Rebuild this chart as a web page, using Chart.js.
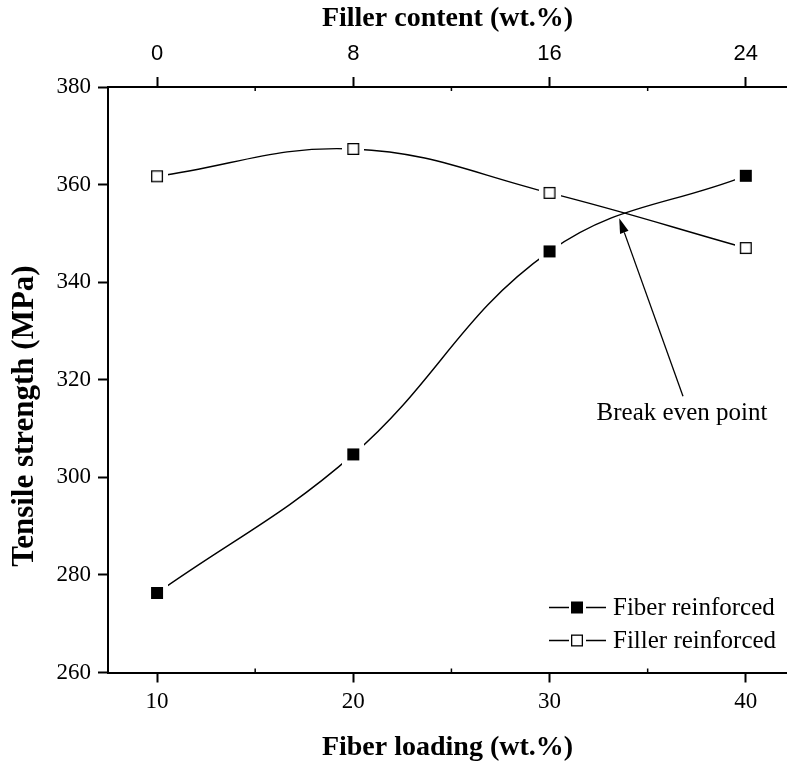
<!DOCTYPE html>
<html>
<head>
<meta charset="utf-8">
<script src="https://cdn.jsdelivr.net/npm/chart.js@4.4.0/dist/chart.umd.min.js"></script>
<style>
  html, body { margin: 0; padding: 0; background: #fff; overflow: hidden; }
  #wrap { width: 787px; height: 765px; position: relative; }
</style>
</head>
<body>
<div id="wrap"><canvas id="strengthChart"></canvas></div>
<script>
// fibre loading on the bottom axis, matching filler content on the top axis
const fiberLoading = [10, 20, 30, 40];
const fillerTicks = ['0', '8', '16', '24'];
const minorTicks = [15, 25, 35];
const strengthTicks = [260, 280, 300, 320, 340, 360, 380];

// tensile strength (MPa)
const fiberReinforced = [276.3, 304.7, 346.3, 361.8];
const fillerReinforced = [361.7, 367.3, 358.3, 347.0];

// arrow pointing at the crossing of the two curves
const breakEven = { tipX: 33.55, tipY: 353.1, tailX: 36.8, tailY: 316.6, textX: 36.75, textY: 313.0, text: 'Break even point' };

const SERIF = '"Liberation Serif", "Times New Roman", serif';
const SANS = '"Liberation Sans", Arial, sans-serif';

// square marker sitting on a white patch, so the curve stops short of it
function makeMarker(filled) {
    const c = document.createElement('canvas');
    c.width = 22; c.height = 22;
    const g = c.getContext('2d');
    g.fillStyle = '#fff';
    g.fillRect(0, 0, 22, 22);
    g.fillStyle = filled ? '#000' : '#fff';
    g.fillRect(5.5, 5.5, 11, 11);
    g.strokeStyle = '#000';
    g.lineWidth = 1.3;
    g.strokeRect(5.65, 5.65, 10.7, 10.7);
    return c;
}

const fixedTicks = (values) => (scale) => {
    scale.ticks = values.map(v => ({ value: v }));
};

// let the plot run to the right edge of the canvas
const noSidePadding = (h) => (scale) => {
    scale.height = h;
    scale.paddingLeft = 0;
    scale.paddingRight = 0;
};

// minor ticks, y title, legend and the break-even arrow
const extras = {
    id: 'extras',
    afterDraw(chart) {
        const { ctx, chartArea, scales } = chart;
        ctx.save();
        ctx.strokeStyle = '#000';
        ctx.fillStyle = '#000';

        // minor ticks on the top and bottom axes, pointing inward
        ctx.lineWidth = 1.5;
        minorTicks.forEach(v => {
            const px = scales.x.getPixelForValue(v);
            ctx.beginPath();
            ctx.moveTo(px, chartArea.bottom);
            ctx.lineTo(px, chartArea.bottom - 4);
            ctx.moveTo(px, chartArea.top);
            ctx.lineTo(px, chartArea.top + 4);
            ctx.stroke();
        });

        // y axis title
        ctx.save();
        ctx.translate(25, 416);
        ctx.rotate(-Math.PI / 2);
        ctx.font = 'bold 31px ' + SERIF;
        ctx.textAlign = 'center';
        ctx.textBaseline = 'middle';
        ctx.fillText('Tensile strength (MPa)', 0, 0);
        ctx.restore();

        // arrow
        const x0 = scales.x.getPixelForValue(breakEven.tailX);
        const y0 = scales.y.getPixelForValue(breakEven.tailY);
        const x1 = scales.x.getPixelForValue(breakEven.tipX);
        const y1 = scales.y.getPixelForValue(breakEven.tipY);
        const ang = Math.atan2(y1 - y0, x1 - x0);
        const head = 15, half = 4.5;
        const bx = x1 - head * Math.cos(ang), by = y1 - head * Math.sin(ang);
        ctx.lineWidth = 1.3;
        ctx.beginPath();
        ctx.moveTo(x0, y0);
        ctx.lineTo(bx, by);
        ctx.stroke();
        ctx.beginPath();
        ctx.moveTo(x1, y1);
        ctx.lineTo(bx + half * Math.sin(ang), by - half * Math.cos(ang));
        ctx.lineTo(bx - half * Math.sin(ang), by + half * Math.cos(ang));
        ctx.closePath();
        ctx.fill();

        ctx.font = '25px ' + SERIF;
        ctx.textAlign = 'center';
        ctx.textBaseline = 'middle';
        ctx.fillText(breakEven.text,
            scales.x.getPixelForValue(breakEven.textX),
            scales.y.getPixelForValue(breakEven.textY));

        // legend
        const rows = [
            { label: chart.data.datasets[0].label, filled: true },
            { label: chart.data.datasets[1].label, filled: false }
        ];
        ctx.textAlign = 'left';
        rows.forEach((r, i) => {
            const y = chartArea.bottom - 65 + i * 33;
            const cx = 577;
            ctx.lineWidth = 1.3;
            ctx.beginPath();
            ctx.moveTo(549, y); ctx.lineTo(569, y);
            ctx.moveTo(586, y); ctx.lineTo(606, y);
            ctx.stroke();
            ctx.fillStyle = r.filled ? '#000' : '#fff';
            ctx.fillRect(cx - 5.5, y - 5.5, 11, 11);
            ctx.strokeRect(cx - 5.35, y - 5.35, 10.7, 10.7);
            ctx.fillStyle = '#000';
            ctx.fillText(r.label, 613, y + 1);
        });
        ctx.restore();
    }
};

const axisGrid = {
    drawOnChartArea: false,
    drawTicks: true,
    tickLength: 10,
    tickWidth: 2,
    tickColor: '#000'
};
const axisBorder = { display: true, color: '#000', width: 2 };

new Chart(document.getElementById('strengthChart'), {
    type: 'line',
    data: {
        datasets: [
            {
                label: 'Fiber reinforced',
                data: fiberLoading.map((x, i) => ({ x, y: fiberReinforced[i] })),
                borderColor: '#000',
                borderWidth: 1.4,
                tension: 0.4,
                pointStyle: makeMarker(true),
                pointRadius: 6
            },
            {
                label: 'Filler reinforced',
                data: fiberLoading.map((x, i) => ({ x, y: fillerReinforced[i] })),
                borderColor: '#000',
                borderWidth: 1.4,
                tension: 0.4,
                pointStyle: makeMarker(false),
                pointRadius: 6
            }
        ]
    },
    options: {
        responsive: true,
        maintainAspectRatio: false,
        animation: false,
        layout: { padding: 0, autoPadding: false },
        plugins: {
            legend: { display: false },
            tooltip: { enabled: false }
        },
        scales: {
            x: {
                type: 'linear',
                position: 'bottom',
                min: 7.5,
                max: 42.1,
                afterBuildTicks: fixedTicks(fiberLoading),
                afterFit: noSidePadding(92.5),
                ticks: {
                    color: '#000',
                    padding: 6,
                    maxRotation: 0,
                    font: { family: SERIF, size: 23 }
                },
                grid: axisGrid,
                border: axisBorder,
                title: {
                    display: true,
                    text: 'Fiber loading (wt.%)',
                    color: '#000',
                    padding: { top: 0, bottom: 0 },
                    font: { family: SERIF, size: 28, weight: 'bold' }
                }
            },
            x2: {
                type: 'linear',
                position: 'top',
                min: 7.5,
                max: 42.1,
                afterBuildTicks: fixedTicks(fiberLoading),
                afterFit: noSidePadding(87),
                ticks: {
                    color: '#000',
                    padding: 10,
                    maxRotation: 0,
                    font: { family: SANS, size: 22 },
                    callback: (v, i) => fillerTicks[i]
                },
                grid: axisGrid,
                border: axisBorder,
                title: {
                    display: true,
                    text: 'Filler content (wt.%)',
                    color: '#000',
                    padding: { top: 2, bottom: 0 },
                    font: { family: SERIF, size: 28, weight: 'bold' }
                }
            },
            y: {
                min: 260,
                max: 380,
                afterBuildTicks: fixedTicks(strengthTicks),
                afterFit: (scale) => { scale.width = 108; },
                ticks: {
                    color: '#000',
                    padding: 7,
                    font: { family: SERIF, size: 23 }
                },
                grid: axisGrid,
                border: axisBorder
            }
        }
    },
    plugins: [extras]
});
</script>
</body>
</html>
